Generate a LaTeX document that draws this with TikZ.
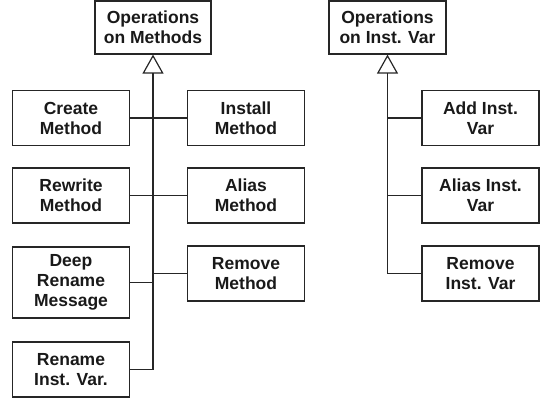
\documentclass[tikz,border=0pt]{standalone}
\usepackage{fontspec}
\setmainfont{Liberation Sans}
\usetikzlibrary{arrows.meta}
\begin{document}
\begin{tikzpicture}[x=1pt,y=-1pt,
op/.style={%
draw=black!85,
line width=1.2pt,
align=center,
inner sep=0pt,
font=\fontsize{17.5}{20}\selectfont\bfseries,
text=black!90,
minimum width=116pt,
minimum height=53pt
},
leaf/.style={%
op,
minimum width=117pt,
minimum height=55pt
},
link/.style={%
draw=black!85,
line width=1.2pt
},
isa/.style={%
link,
-{Triangle[open,length=19pt,width=21pt]}
},
]
\useasboundingbox (0,0) rectangle (546,402);
%% Methods
\node[op]at(153,27.5)(meth){Operations\\on Methods};
\node[leaf]at(71,118)(create){Create\\Method};
\node[leaf]at(71,195.5)(rewrite){Rewrite\\Method};
\node[leaf,minimum height=71pt]at(71,282.5)(deep){Deep\\Rename\\Message};
\node[leaf]at(71,369.5)(rename){Rename\\Inst. Var.};
\node[leaf]at(246,118)(install){Install\\Method};
\node[leaf]at(246,195.5)(alias){Alias\\Method};
\node[leaf]at(246,273.5)(remove){Remove\\Method};
\coordinate(mbot)at(meth.south|-rename.east);
\draw[isa](mbot)--(meth.south);
\draw[link](create.east)--(create.east-|mbot)--(install.west);
\draw[link](rewrite.east)--(rewrite.east-|mbot)--(alias.west);
\draw[link](deep.east)--(deep.east-|mbot);
\draw[link](remove.west)--(remove.west-|mbot);
\draw[link](rename.east)--(mbot);
%% Inst. Var
\node[op,minimum width=117pt]at(387.5,27.5)(ivar){Operations\\on Inst. Var};
\node[leaf]at(480.5,118)(addvar){Add Inst.\\Var};
\node[leaf]at(480.5,195.5)(aliasvar){Alias Inst.\\Var};
\node[leaf]at(480.5,273.5)(removevar){Remove\\Inst. Var};
\coordinate(vbot)at(ivar.south|-removevar.west);
\draw[isa](vbot)--(ivar.south);
\draw[link](addvar.west)--(addvar.west-|vbot);
\draw[link](aliasvar.west)--(aliasvar.west-|vbot);
\draw[link](removevar.west)--(vbot);
\end{tikzpicture}
\end{document}
